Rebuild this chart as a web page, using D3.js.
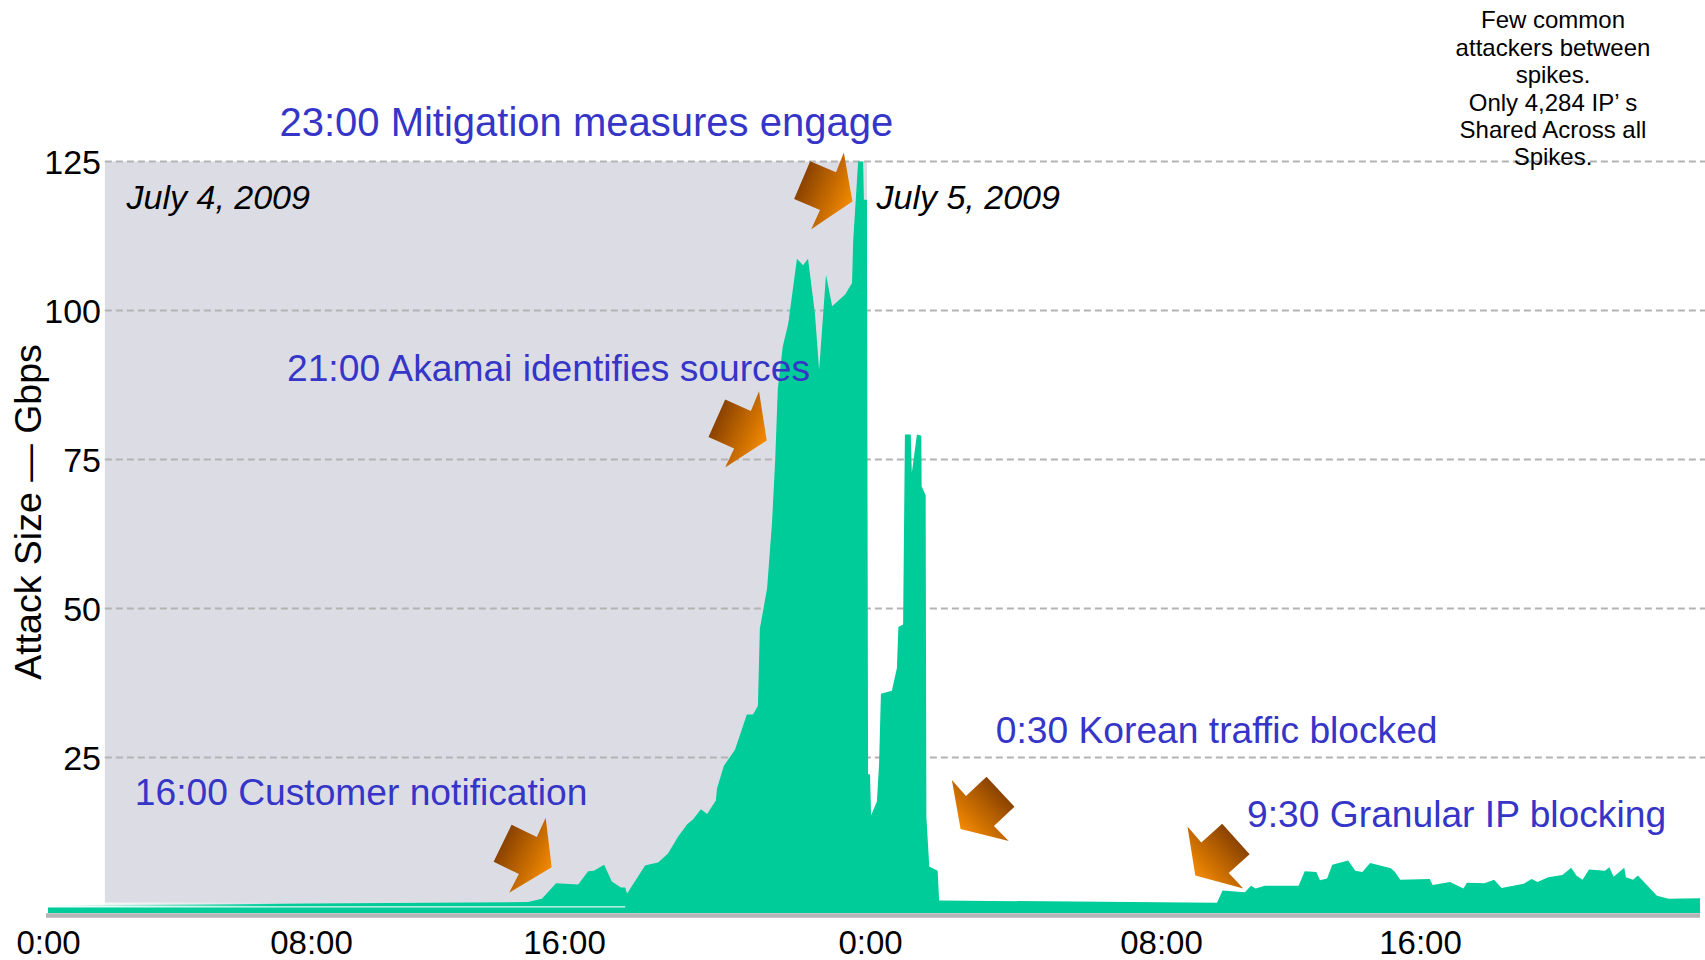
<!DOCTYPE html>
<html><head><meta charset="utf-8">
<script src="https://cdn.jsdelivr.net/npm/d3@7"></script>
<style>
html,body{margin:0;padding:0;background:#fff;}
svg{display:block;font-family:"Liberation Sans",Arial,Helvetica,sans-serif;}
</style></head><body>
<svg id="chart" width="1705" height="960"></svg>
<script>
// ---- data (hours since 0:00 July 4, 2009 ; attack size in Gbps) ----
const hours = [0, 8, 14.86, 15.3, 15.75, 16.37, 16.63, 16.78, 17.05, 17.25, 17.49, 17.6, 17.65,
  18.12, 18.25, 18.46, 18.72, 18.98, 19.22, 19.37, 19.58, 19.74, 19.97, 20.0, 20.18, 20.47,
  20.78, 20.94, 21.07, 21.12, 21.31, 21.44, 21.52, 21.59, 21.72, 21.86, 22.09, 22.25, 22.38,
  22.56, 22.67, 22.85, 23.01, 23.35, 23.53, 23.56, 23.69, 23.82, 23.84, 23.92, 23.95, 24.0,
  24.03, 24.19, 24.25, 24.3, 24.6, 24.74, 24.78, 24.91, 24.96, 25.12, 25.15, 25.29, 25.41,
  25.42, 25.53, 25.55, 25.63, 25.86, 25.9, 33.73, 33.9, 34.59, 34.78, 34.92, 35.21, 36.25,
  36.44, 36.8, 36.91, 37.13, 37.29, 37.78, 38.0, 38.22, 38.46, 39.1, 39.23, 39.39, 40.3,
  40.39, 40.93, 41.34, 41.45, 41.99, 42.29, 42.52, 43.2, 43.45, 43.63, 43.96, 44.4, 44.67,
  44.83, 45.02, 45.22, 45.71, 45.85, 45.98, 46.31, 46.36, 46.58, 46.73, 47.32, 47.68, 48.65];
const gbps = [0.2, 0.5, 0.75, 1.3, 3.9, 3.7, 5.9, 6.0, 7.0, 4.2, 3.2, 3.2, 2.2,
  6.9, 7.1, 7.4, 8.9, 11.7, 13.8, 14.6, 16.3, 15.5, 17.8, 19.8, 23.6, 26.3,
  32.2, 32.2, 33.7, 46.6, 53.4, 64.6, 74.7, 86.9, 94, 97.7, 108.7, 107.6, 108.7,
  99.5, 90, 106, 100.7, 102.7, 104.6, 111.6, 125, 125, 118.6, 118.6, 22.2, 22.2,
  15.3, 17.6, 24, 35.7, 36.2, 40, 46.9, 47.3, 79.2, 79.2, 72.8, 79.2, 79,
  70.5, 69, 15, 6.7, 6.0, 1.0, 0.65, 2.7, 2.4, 3.5, 3.0, 3.5, 3.5,
  5.9, 5.8, 4.4, 4.7, 7.0, 7.7, 6.0, 5.8, 7.3, 6.4, 5.8, 4.5, 4.6,
  3.6, 4.1, 3.0, 4.0, 3.9, 4.5, 3.1, 3.8, 4.6, 4.1, 4.9, 5.3, 6.5,
  5.2, 4.5, 6.2, 6.0, 6.6, 5.0, 6.5, 4.9, 4.5, 5.2, 1.8, 1.3, 1.4];

const xTickHours = [0, 8, 16, 24, 32, 40];
const xTickLabels = ["0:00", "08:00", "16:00", "0:00", "08:00", "16:00"];
const yTicks = [25, 50, 75, 100, 125];
const yTitle = "Attack Size \u2014 Gbps";

const july4Span = [1.73, 23.92];
const dateLabels = ["July 4, 2009", "July 5, 2009"];
const dateLabelHours = [2.39, 24.18];
const dateLabelValues = [117, 117];

const eventLabels = ["23:00 Mitigation measures engage", "21:00 Akamai identifies sources",
  "16:00 Customer notification", "0:30 Korean traffic blocked", "9:30 Granular IP blocking"];
const eventLabelHours = [7.04, 7.27, 2.64, 27.46, 34.66];
const eventLabelValues = [129.3, 88.2, 17.1, 27.5, 13.3];

const arrowHours = [23.54, 21.3, 15.61, 26.49, 33.06];
const arrowValues = [118.3, 78.2, 6.6, 13.0, 5.2];
const arrowAngles = [23, 24, 26, 137, 138];

const noteLines = ["Few common", "attackers between", "spikes.", "Only 4,284 IP\u2019 s", "Shared Across all", "Spikes."];

// ---- drawing ----
const W = 1705, H = 960;
const svg = d3.select("#chart");
const defs = svg.append("defs");

const x = d3.scaleLinear().domain([0, 8, 16, 24, 32, 40, 48]).range([48, 311, 564, 870, 1161, 1420, 1679]);
const y = d3.scaleLinear().domain([0, 125]).range([906.5, 161.5]);
const data = hours.map((h, i) => ({h, v: gbps[i]}));
const floorY = y(0) + 6.5;

// shaded July 4 region
svg.append("rect")
  .attr("x", x(july4Span[0])).attr("y", y(125))
  .attr("width", x(july4Span[1]) - x(july4Span[0]))
  .attr("height", floorY - y(125))
  .attr("fill", "#dcdde4");

// gridlines
svg.append("g").selectAll("line").data(yTicks).join("line")
  .attr("x1", x(july4Span[0])).attr("x2", W)
  .attr("y1", d => y(d)).attr("y2", d => y(d))
  .attr("stroke", "#b3b3b3").attr("stroke-width", 2).attr("stroke-dasharray", "7,4");

// area
const area = d3.area().x(d => x(d.h)).y0(floorY).y1(d => y(d.v)).curve(d3.curveLinear);
svg.append("path").datum(data).attr("d", area).attr("fill", "#00cc99");

// thin floor highlight line + left fade
const fade = defs.append("linearGradient").attr("id", "fade").attr("x1", 0).attr("x2", 1).attr("y1", 0).attr("y2", 0);
fade.append("stop").attr("offset", 0).attr("stop-color", "#fff").attr("stop-opacity", 1);
fade.append("stop").attr("offset", 1).attr("stop-color", "#fff").attr("stop-opacity", 0);
svg.append("rect").attr("x", x(0)).attr("y", y(0) - 4).attr("width", x(7) - x(0)).attr("height", 4.5)
  .attr("fill", "url(#fade)");
svg.append("line").attr("x1", x(0)).attr("x2", x(17.6))
  .attr("y1", y(0) + 0.3).attr("y2", y(0) + 0.3)
  .attr("stroke", "#fff").attr("stroke-width", 1.3).attr("stroke-opacity", 0.9);

// axis floor bar
svg.append("line")
  .attr("x1", x(0) - 2).attr("x2", x(hours[hours.length - 1]))
  .attr("y1", floorY + 2.5).attr("y2", floorY + 2.5)
  .attr("stroke", "#b5b5b5").attr("stroke-width", 4.5);

// x axis
const xAxis = svg.append("g").attr("transform", `translate(0,${954})`)
  .call(d3.axisBottom(x).tickValues(xTickHours).tickFormat((d, i) => xTickLabels[i]).tickSize(0));
xAxis.select(".domain").remove();
xAxis.selectAll("text").attr("y", 0).attr("dy", null)
  .attr("font-size", 33).attr("font-family", "'Liberation Sans', Arial, sans-serif").attr("fill", "#000");

// y axis
const yAxis = svg.append("g").attr("transform", `translate(101,0)`)
  .call(d3.axisLeft(y).tickValues(yTicks).tickSize(0).tickPadding(0));
yAxis.select(".domain").remove();
yAxis.selectAll("text").attr("dy", "0.34em")
  .attr("font-size", 34).attr("font-family", "'Liberation Sans', Arial, sans-serif").attr("fill", "#000");

// y title
svg.append("text")
  .attr("transform", `translate(41,512) rotate(-90)`)
  .attr("text-anchor", "middle").attr("font-size", 37.5).attr("fill", "#000")
  .text(yTitle);

// date labels
svg.append("g").selectAll("text").data(dateLabels).join("text")
  .attr("x", (d, i) => x(dateLabelHours[i])).attr("y", (d, i) => y(dateLabelValues[i]))
  .attr("font-size", 34).attr("font-style", "italic").attr("fill", "#000")
  .text(d => d);

// arrows
const grad = defs.append("linearGradient").attr("id", "arrowGrad")
  .attr("gradientUnits", "userSpaceOnUse").attr("x1", -55).attr("x2", 0).attr("y1", 0).attr("y2", 0);
grad.append("stop").attr("offset", 0).attr("stop-color", "#8a4200");
grad.append("stop").attr("offset", 1).attr("stop-color", "#f48a00");
const arrowShape = [[0, 0], [-27, -41.7], [-26.5, -20.5], [-54.6, -20.5], [-54.6, 20.5], [-26.5, 20.5], [-27, 41.7]];
svg.append("g").selectAll("g").data(arrowHours).join("g")
  .attr("transform", (d, i) => `translate(${x(d)},${y(arrowValues[i])}) rotate(${arrowAngles[i]})`)
  .append("path")
  .attr("d", d3.line()(arrowShape) + "Z")
  .attr("fill", "url(#arrowGrad)");

// event labels
svg.append("g").selectAll("text").data(eventLabels).join("text")
  .attr("x", (d, i) => x(eventLabelHours[i])).attr("y", (d, i) => y(eventLabelValues[i]))
  .attr("font-size", (d, i) => i === 0 ? 40 : 37.2).attr("fill", "#3535c8")
  .text(d => d);

// note
svg.append("g").selectAll("text").data(noteLines).join("text")
  .attr("x", 1553).attr("y", (d, i) => 28.3 + i * 27.4)
  .attr("text-anchor", "middle").attr("font-size", 24).attr("fill", "#000")
  .text(d => d);
</script>
</body></html>
